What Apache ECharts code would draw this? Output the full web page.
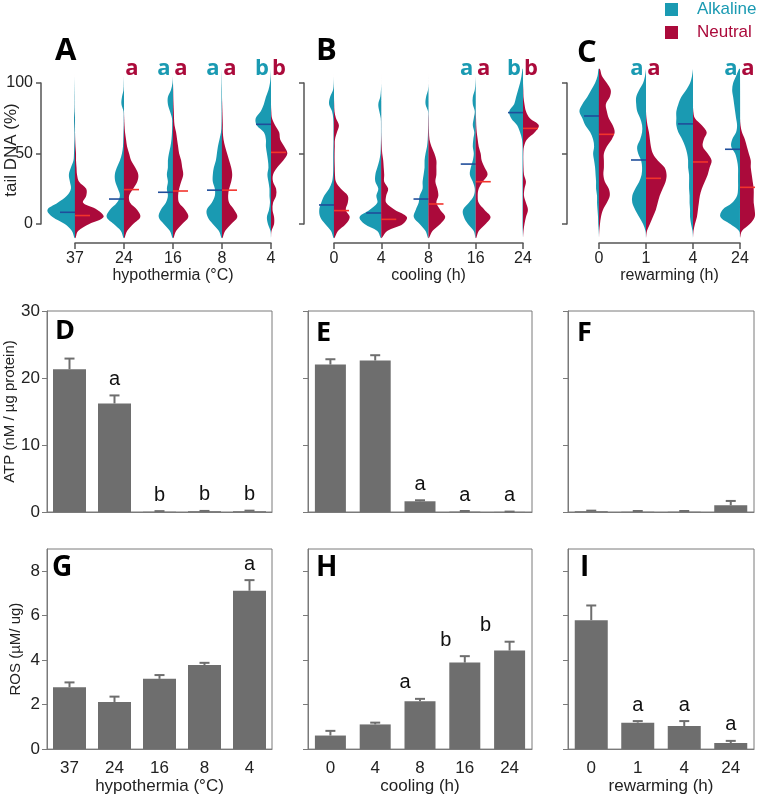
<!DOCTYPE html>
<html><head><meta charset="utf-8">
<script src="https://cdn.jsdelivr.net/npm/echarts@6/dist/echarts.min.js"></script>
<style>html,body{margin:0;padding:0;background:#fff}#c{width:760px;height:796px}</style>
</head><body><div id="c"></div>
<script>
// ---------- DATA ----------
const LEVELS = [-10,-5,0,5,10,15,20,25,30,35,40,45,50,55,60,65,70,75,80,85,90,95,100,105,110];

const catsHypo = ['37','24','16','8','4'];
const catsCool = ['0','4','8','16','24'];
const catsRewarm = ['0','1','4','24'];

// violin half-densities (relative widths) at LEVELS, one row per category
const alkHypoDens = [
  [0.5,3,10,22,27,17,8,4,5,6,4,1.5,1,0.8,0.5,0.5,0.8,1,0.5,0.3,0.3,0.2,0.1,0,0],
  [0.5,3,10,17,14,7,4,6,8.5,9,7,4,2,1,0.7,0.5,0.3,0.3,0.5,2.5,2,0.5,0.2,0,0],
  [0.5,3,9,14,12,7,5,6,5,6,5,5,4,2.5,1.5,1,0.8,1,3,5,5,2,0.5,0,0],
  [0.5,3,9,14,15,10,7,7,9,9,8,6,5,4,2.5,1,0.5,0.4,0.4,0.5,0.5,0.5,0.3,0.2,0],
  [0,0.5,3,4,2,1,1.5,1.5,2.5,3.5,2.5,3,4,5,5,7,14,15,10,7,5,2.5,1,0.3,0]
];
const neuHypoDens = [
  [0.5,3,14,28,22,8,11,11,4,2,1.5,1,1,0.5,0.2,0,0,0,0,0,0,0,0,0,0],
  [0.5,3,9,16,13,6,5,9,13,14,11,7,5,3,2,1,0.5,0.2,0,0,0,0,0,0,0],
  [0.5,3,9,15,12,6,5,6,8,10,9,8,6,5,4,3,1.5,1,0.8,0.5,0.3,0.2,0,0,0],
  [0.5,3,9,15,12,7,6,7,9,10,9,7,5,3,1.5,0.8,0.8,0.6,0.4,0.2,0,0,0,0,0],
  [0,0.5,3,3,1.5,2,5,5,2,2,6,12,16,13,9,8,4,1,0.3,0,0,0,0,0,0]
];
const alkCoolDens = [
  [0.5,3,9,14,15,13,10,5,2,1,0.8,0.8,0.8,0.6,0.5,0.5,0.5,0.8,2,5,4,1,0.2,0,0],
  [0.5,4,17,22,12,4,5,3,6,6,4,2,0.8,0.5,0.3,0.3,0.3,0.5,2,3,1,0.3,0,0,0],
  [0.5,3,9,15,13,10,9,6,6,5,4,4,3,1.5,0.8,0.5,0.3,0.3,0.5,3,2.5,0.5,0,0,0],
  [0.3,2,8,12,13,7,2,1,3,6,5,3,2,3,2.5,1.5,3,2,1,3,3,1,0.3,0,0],
  [0,0.3,0.5,0.5,0.5,0.5,0.5,0.5,0.5,0.5,0.5,0.5,0.5,0.5,1,3,6,12,14,9,7,5,3,1.5,0.5]
];
const neuCoolDens = [
  [0.5,4,12,16,12,14,14,7,2,1,0.8,0.6,0.6,0.8,1,3,5,2,0.5,0.2,0,0,0,0,0],
  [0.5,6,22,26,14,5,5,7,3,3,2.5,2,1,0.5,0.2,0,0,0,0,0,0,0,0,0,0],
  [0.5,4,12,17,12,8,10,9,7,8,8,8,6,3,1,0.5,0.3,0.2,0,0,0,0,0,0,0],
  [0.5,3,10,15,9,3,2,3,7,12,9,6,5,3,2,1,0.5,0.3,0,0,0,0,0,0,0],
  [0,0.5,1.5,3,5,3,1,1.5,3,1,0.5,0.3,0.3,1,4,12,16,7,3,1.5,0.5,0.3,0,0,0]
];
const alkRewarmDens = [
  [0,0.3,0.8,1,1.5,2,2,3,3,3.5,4,5,6,5,6,9,14,17,20,17,12,8,4,1.5,0.5],
  [0,0.5,3,7,11,14,14,11,7,4.5,4,5,8,9,6,4,4,6,9,10,10,7,3,1,0],
  [0,0.5,2,3,3,3.5,3.5,4,4,4,5,5,6,8,11,15,17,17,17,15,12,7,3,1,0],
  [0,1,10,20,18,8,3,2,2,2,2,3,5,9,8,4,3,4,5,6,7,8,7,4,1]
];
const neuRewarmDens = [
  [0,0.3,1,2,4,8,11,10,6,4.5,5,5,5,8,13,16,14,10,8,7,11,12,8,3,1],
  [0,1,4,7,10,12,14,17,20,21,19,12,7,5,4,3,1.5,0.5,0,0,0,0,0,0,0],
  [0,0.5,2,4,5,6,7,9,12,15,17,19,15,10,11,14,9,2,0.3,0,0,0,0,0,0],
  [0,2,10,15,15,14,14,14,13,12,11,11,9,7,5,2,0.5,0,0,0,0,0,0,0,0]
];
// means of tail DNA (%)
const alkHypoMean = [8.3,17.7,22.5,24,70.7];
const neuHypoMean = [6,24.4,23.4,24,50.8];
const alkCoolMean = [13.5,7.8,17.7,42.5,79];
const neuCoolMean = [9.5,3.3,14.2,30,67.8];
const alkRewarmMean = [76.6,45.4,71,53];
const neuRewarmMean = [63.6,32.4,44,26];
// significance letters (comet)
const alkHypoSig = ['','','a','a','b'];
const neuHypoSig = ['','a','a','a','b'];
const alkCoolSig = ['','','','a','b'];
const neuCoolSig = ['','','','a','b'];
const alkRewarmSig = ['','a','','a'];
const neuRewarmSig = ['','a','','a'];

// ATP (nM / µg protein)
const atpHypo = [21.3,16.2,0.05,0.1,0.1];
const atpHypoSem = [1.6,1.2,0.08,0.06,0.1];
const atpHypoSig = ['','a','b','b','b'];
const atpCool = [22.0,22.6,1.6,0.05,0.02];
const atpCoolSem = [0.8,0.8,0.15,0.1,0.04];
const atpCoolSig = ['','','a','a','a'];
const atpRewarm = [0.1,0.05,0.05,1.0];
const atpRewarmSem = [0.1,0.1,0.1,0.65];
const atpRewarmSig = ['','','',''];
// ROS (µM/ ug)
const rosHypo = [2.78,2.12,3.16,3.78,7.12];
const rosHypoSem = [0.22,0.24,0.17,0.1,0.48];
const rosHypoSig = ['','','','','a'];
const rosCool = [0.61,1.11,2.15,3.89,4.43];
const rosCoolSem = [0.21,0.08,0.11,0.29,0.4];
const rosCoolSig = ['','','a','b','b'];
const rosRewarm = [5.8,1.19,1.04,0.27];
const rosRewarmSem = [0.66,0.07,0.22,0.1];
const rosRewarmSig = ['','a','a','a'];

// ---------- STYLE ----------
const TEAL = '#1a9ab2', RED = '#ab0a3b', MEAN_ALK = '#1f4d9a', MEAN_NEU = '#f2342c';
const GRAY = '#6e6e6e', BOX = '#7a7a7a', AX = '#555';
const FONT = "'Liberation Sans', Arial, sans-serif";
const BOLD = "'Open Sans', 'Liberation Sans', sans-serif";
const DENS_PER_CAT = 48;

function violin(name, gi, dens, means, side, color, meanColor) {
  return {
    type: 'custom', name, xAxisIndex: gi, yAxisIndex: gi, clip: false, silent: true,
    itemStyle: {color},
    data: means.map((m, i) => [i, m]),
    renderItem(params, api) {
      const i = api.value(0);
      const d = dens[i];
      const k = api.size([1, 0])[0] / DENS_PER_CAT;
      const cx = api.coord([i, 0])[0];
      const pts = [[cx, api.coord([i, LEVELS[0]])[1]]];
      for (let j = 0; j < LEVELS.length; j++) {
        pts.push([cx + side * d[j] * k, api.coord([i, LEVELS[j]])[1]]);
      }
      pts.push([cx, api.coord([i, LEVELS[LEVELS.length - 1]])[1]]);
      const my = api.coord([i, api.value(1)])[1];
      return {type: 'group', children: [
        {type: 'polygon', shape: {points: pts, smooth: 0.35}, style: {fill: color}},
        {type: 'line', shape: {x1: cx, y1: my, x2: cx + side * 15, y2: my}, style: {stroke: meanColor, lineWidth: 1.6}}
      ]};
    }
  };
}
function sigTop(gi, sig, color, dx) {
  return {
    type: 'custom', xAxisIndex: gi, yAxisIndex: gi, clip: false, silent: true,
    data: sig.map((s, i) => [i, 100]),
    renderItem(params, api) {
      const i = api.value(0);
      if (!sig[i]) return null;
      const p = api.coord([i, 100]);
      return {type: 'text', x: p[0] + dx, y: p[1] - 14,
        style: {text: sig[i], fill: color, font: `bold 22px ${BOLD}`, align: 'center', verticalAlign: 'middle'}};
    }
  };
}
function bars(gi, vals, sem, sig, bw, ldx) {
  return [
    {type: 'bar', xAxisIndex: gi, yAxisIndex: gi, data: vals, barWidth: bw, silent: true,
     itemStyle: {color: GRAY}},
    {type: 'custom', xAxisIndex: gi, yAxisIndex: gi, silent: true, z: 3,
     data: vals.map((v, i) => [i, v, sem[i]]),
     renderItem(params, api) {
       const i = api.value(0), v = api.value(1), s = api.value(2);
       const p0 = api.coord([i, v]), p1 = api.coord([i, v + s]);
       const ch = [
         {type: 'line', shape: {x1: p0[0], y1: p0[1], x2: p1[0], y2: p1[1]}, style: {stroke: GRAY, lineWidth: 2}},
         {type: 'line', shape: {x1: p1[0] - 5, y1: p1[1], x2: p1[0] + 5, y2: p1[1]}, style: {stroke: GRAY, lineWidth: 2}}
       ];
       if (sig[i]) ch.push({type: 'text', x: p1[0] + (ldx ? ldx[i] : 0), y: p1[1] - 6,
         style: {text: sig[i], fill: '#111', font: `20px ${FONT}`, align: 'center', verticalAlign: 'bottom'}});
       return {type: 'group', children: ch};
     }}
  ];
}

// ---------- LAYOUT ----------
const grids = [
  {left: 75, top: 83, width: 196, height: 141},
  {left: 334, top: 83, width: 189, height: 141},
  {left: 599, top: 83, width: 141, height: 141},
  {left: 47, top: 311, width: 225, height: 201},
  {left: 308, top: 311, width: 224, height: 201},
  {left: 568, top: 311, width: 186, height: 201},
  {left: 47, top: 549, width: 225, height: 201},
  {left: 308, top: 549, width: 224, height: 201},
  {left: 568, top: 549, width: 186, height: 201}
].map((g, i) => i < 3 ? g : Object.assign(g, {show: true, borderColor: BOX, borderWidth: 1}));

const topCats = [catsHypo, catsCool, catsRewarm];
const topNames = ['hypothermia (°C)', 'cooling (h)', 'rewarming (h)'];
const xAxes = [], yAxes = [];
[0, 1, 2].forEach(t => {
  const c = topCats[t];
  xAxes.push({type: 'value', gridIndex: t, min: 0, max: c.length - 1, interval: 1, offset: 19,
    axisLine: {onZero: false, lineStyle: {color: AX, width: 1.5}}, axisTick: {length: 6, lineStyle: {color: AX, width: 1.5}},
    splitLine: {show: false},
    axisLabel: {formatter: v => c[v], fontFamily: FONT, fontSize: 16, color: '#222', margin: 8},
    name: topNames[t], nameLocation: 'middle', nameGap: 24,
    nameTextStyle: {fontFamily: FONT, fontSize: 16, color: '#222', verticalAlign: 'top'}});
  yAxes.push({type: 'value', gridIndex: t, min: 0, max: 100, interval: 50,
    offset: [34, 30, 32][t],
    axisLine: {show: true, onZero: false, lineStyle: {color: AX, width: 1.5}}, axisTick: {show: true, length: 5, lineStyle: {color: AX, width: 1.5}},
    splitLine: {show: false},
    axisLabel: {show: t === 0, fontFamily: FONT, fontSize: 16, color: '#222', margin: 8}});
});
const barCats = [catsHypo, catsCool, catsRewarm];
[3, 4, 5, 6, 7, 8].forEach(g => {
  const col = (g - 3) % 3, bottom = g >= 6;
  xAxes.push({type: 'category', gridIndex: g, data: barCats[col],
    axisLine: {show: true, lineStyle: {color: BOX}},
    axisTick: {alignWithLabel: true, length: 6, lineStyle: {color: BOX}},
    axisLabel: {show: bottom, fontFamily: FONT, fontSize: 17, color: '#222', margin: 11},
    name: bottom ? topNames[col] : '', nameLocation: 'middle', nameGap: 28,
    nameTextStyle: {fontFamily: FONT, fontSize: 17, color: '#222', verticalAlign: 'top'}});
  const atp = !bottom;
  yAxes.push({type: 'value', gridIndex: g, min: 0, max: atp ? 30 : 9, interval: atp ? 10 : 2,
    axisLine: {show: true, lineStyle: {color: BOX}},
    axisTick: {show: true, length: 5, lineStyle: {color: BOX}, customValues: atp ? [0, 10, 20, 30] : [0, 2, 4, 6, 8]},
    splitLine: {show: false},
    axisLabel: {show: col === 0, fontFamily: FONT, fontSize: 17, color: '#222', margin: 7,
      customValues: atp ? [0, 10, 20, 30] : [0, 2, 4, 6, 8]},
    name: col === 0 ? (atp ? 'ATP (nM / µg protein)' : 'ROS (µM/ ug)') : '',
    nameLocation: 'middle', nameGap: 24,
    nameTextStyle: {fontFamily: FONT, fontSize: 15, color: '#222'}});
});

const series = [
  violin('Alkaline', 0, alkHypoDens, alkHypoMean, -1, TEAL, MEAN_ALK),
  violin('Neutral', 0, neuHypoDens, neuHypoMean, 1, RED, MEAN_NEU),
  violin('Alkaline', 1, alkCoolDens, alkCoolMean, -1, TEAL, MEAN_ALK),
  violin('Neutral', 1, neuCoolDens, neuCoolMean, 1, RED, MEAN_NEU),
  violin('Alkaline', 2, alkRewarmDens, alkRewarmMean, -1, TEAL, MEAN_ALK),
  violin('Neutral', 2, neuRewarmDens, neuRewarmMean, 1, RED, MEAN_NEU),
  sigTop(0, alkHypoSig, TEAL, -9), sigTop(0, neuHypoSig, RED, 8),
  sigTop(1, alkCoolSig, TEAL, -9), sigTop(1, neuCoolSig, RED, 8),
  sigTop(2, alkRewarmSig, TEAL, -9), sigTop(2, neuRewarmSig, RED, 8),
  ...bars(3, atpHypo, atpHypoSem, atpHypoSig, 33),
  ...bars(4, atpCool, atpCoolSem, atpCoolSig, 31),
  ...bars(5, atpRewarm, atpRewarmSem, atpRewarmSig, 33),
  ...bars(6, rosHypo, rosHypoSem, rosHypoSig, 33),
  ...bars(7, rosCool, rosCoolSem, rosCoolSig, 31, [0, 0, -15, -19, -24]),
  ...bars(8, rosRewarm, rosRewarmSem, rosRewarmSig, 33)
];

const panelLetters = [
  ['A', 55, 51, 31], ['B', 316, 51, 31], ['C', 577, 53, 31],
  ['D', 55, 331, 27], ['E', 316, 333, 27], ['F', 577, 333, 27],
  ['G', 52, 568, 28], ['H', 316, 568, 28], ['I', 580, 568, 28]
];
const graphic = panelLetters.map(([t, x, y, fs]) => ({type: 'text', x, y, silent: true,
  style: {text: t, fill: '#000', font: `bold ${fs}px ${BOLD}`, align: 'left', verticalAlign: 'middle'}}));
graphic.push({type: 'text', x: 11, y: 150, rotation: Math.PI / 2, silent: true,
  style: {text: 'tail DNA (%)', fill: '#222', font: `17px ${FONT}`, align: 'center', verticalAlign: 'middle'}});

const chart = echarts.init(document.getElementById('c'), null, {renderer: 'canvas'});
chart.setOption({
  animation: false,
  backgroundColor: '#fff',
  grid: grids, xAxis: xAxes, yAxis: yAxes, series, graphic,
  legend: {orient: 'vertical', left: 665, top: 1, padding: 0, itemWidth: 13, itemHeight: 13, itemGap: 6,
    icon: 'rect', selectedMode: false,
    textStyle: {fontFamily: FONT, fontSize: 17, padding: [0, 0, 0, 14]},
    data: [{name: 'Alkaline', itemStyle: {color: TEAL}, textStyle: {color: TEAL}},
           {name: 'Neutral', itemStyle: {color: RED}, textStyle: {color: RED}}]}
});
</script></body></html>
